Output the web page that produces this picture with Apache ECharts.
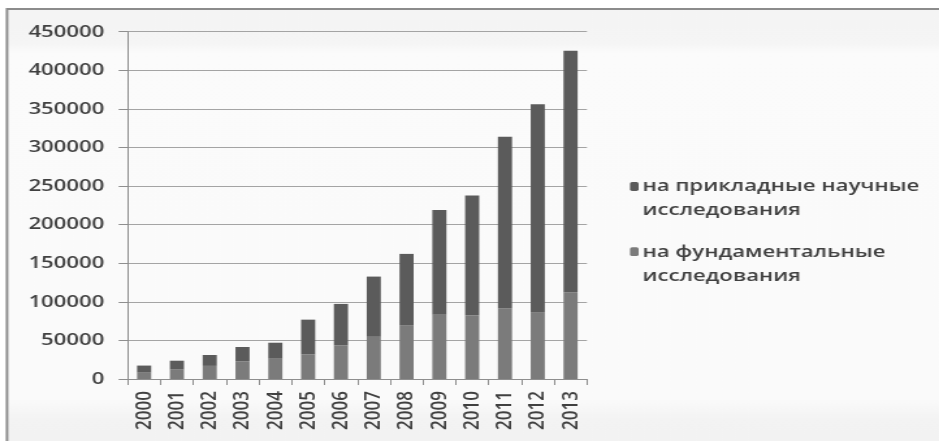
<!DOCTYPE html>
<html>
<head>
<meta charset="utf-8">
<script src="https://cdn.jsdelivr.net/npm/echarts@6/dist/echarts.min.js"></script>
<style>
  html, body { margin: 0; padding: 0; background: #ffffff; }
  #wrap { width: 939px; height: 441px; overflow: hidden; }
  /* the chart is laid out narrower and widened horizontally, giving the broad lettering */
  #chart { width: 722px; height: 441px; transform: scaleX(1.3006); transform-origin: 0 0; }
</style>
</head>
<body>
<div id="wrap"><div id="chart"></div></div>
<script>
// Expenditure on civil science by year
const years = ['2000', '2001', '2002', '2003', '2004', '2005', '2006',
               '2007', '2008', '2009', '2010', '2011', '2012', '2013'];
const fundamental = [8200, 12200, 17000, 22800, 26300, 32000, 43500,
                     54700, 69800, 83200, 82200, 91700, 86600, 112300];
const applied = [9200, 11500, 14100, 18700, 20700, 44900, 53800,
                 78000, 92300, 135900, 155500, 222200, 269300, 313000];
const seriesNames = ['на фундаментальные исследования', 'на прикладные научные исследования'];
const legendOrder = [seriesNames[1], seriesNames[0]];

const FONT = '"Open Sans", "DejaVu Sans", sans-serif';
const chart = echarts.init(document.getElementById('chart'), null, { renderer: 'canvas' });

chart.setOption({
  animation: false,
  backgroundColor: 'transparent',
  graphic: [{
    type: 'rect',
    z: -10,
    shape: { x: 5.4, y: 9, width: 800, height: 500 },
    style: {
      fill: {
        type: 'linear', x: 0, y: 0, x2: 0, y2: 1,
        colorStops: [
          { offset: 0, color: '#f4f4f4' },
          { offset: 0.07, color: '#f5f5f5' },
          { offset: 0.09, color: '#fbfbfb' },
          { offset: 0.78, color: '#fafafa' },
          { offset: 0.82, color: '#f3f3f3' },
          { offset: 1, color: '#efefef' }
        ]
      },
      stroke: '#8c8c8c',
      lineWidth: 2
    }
  }],
  grid: { left: 98.2, right: 270.7, top: 31.7, bottom: 62, containLabel: false },
  legend: {
    orient: 'vertical',
    left: 484.4,
    top: 150.5,
    padding: 0,
    itemGap: -6.8,
    itemWidth: 6.6,
    itemHeight: 8.8,
    data: legendOrder,
    // a leading blank line keeps the marker level with the first line of each name
    formatter: name => '\n' + name.replace(' исследования', '\nисследования'),
    textStyle: {
      fontFamily: FONT,
      fontSize: 17,
      fontWeight: 600,
      color: '#404040',
      lineHeight: 24,
      padding: [0, 0, 0, -2],
      backgroundColor: 'rgba(0,0,0,0)'
    }
  },
  xAxis: {
    type: 'category',
    data: years,
    axisLine: { show: true, lineStyle: { color: '#8e8e8e', width: 1 } },
    axisTick: { show: true, alignWithLabel: false, length: 6, lineStyle: { color: '#8e8e8e' } },
    axisLabel: {
      rotate: 90,
      margin: 12,
      fontFamily: FONT,
      fontSize: 17,
      fontWeight: 600,
      color: '#404040'
    },
    splitLine: { show: false }
  },
  yAxis: {
    type: 'value',
    min: 0,
    max: 450000,
    interval: 50000,
    axisLine: { show: true, lineStyle: { color: '#8e8e8e', width: 1 } },
    axisTick: { show: true, length: 7, lineStyle: { color: '#8e8e8e' } },
    axisLabel: {
      margin: 18,
      fontFamily: FONT,
      fontSize: 17,
      fontWeight: 600,
      color: '#404040',
      formatter: v => String(v)
    },
    splitLine: { show: true, lineStyle: { color: '#a4a4a4', width: 1 } }
  },
  series: [
    {
      name: seriesNames[0],
      type: 'bar',
      stack: 'total',
      barWidth: '43%',
      data: fundamental,
      itemStyle: { color: '#7b7b7b' }
    },
    {
      name: seriesNames[1],
      type: 'bar',
      stack: 'total',
      barWidth: '43%',
      data: applied,
      itemStyle: { color: '#5b5b5b' }
    }
  ]
});
</script>
</body>
</html>
